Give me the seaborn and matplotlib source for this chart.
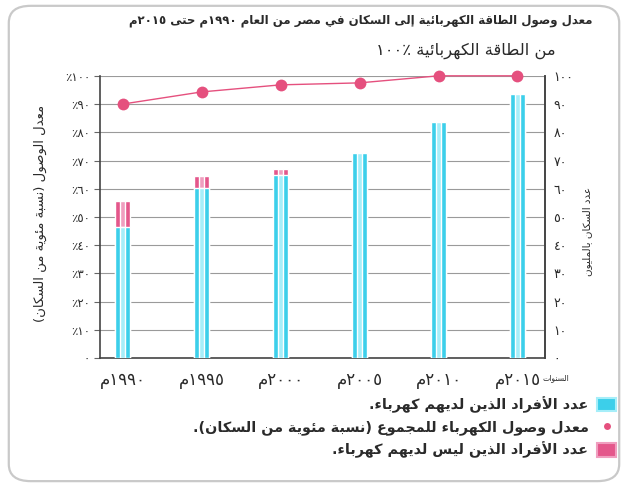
import re
import matplotlib
matplotlib.use("Agg")
import matplotlib.pyplot as plt
import seaborn as sns
from matplotlib.patches import FancyBboxPatch, Patch
from matplotlib.lines import Line2D

# ---------------- data ----------------
years = ["١٩٩٠م", "١٩٩٥م", "٢٠٠٠م", "٢٠٠٥م", "٢٠١٠م", "٢٠١٥م"]
pop_total = [55.7, 64.5, 66.9, 72.6, 83.8, 93.5]      # millions (total population)
pop_with = [46.5, 60.3, 64.9, 72.6, 83.8, 93.5]       # millions with electricity
access_pct = [90.0, 94.3, 96.8, 97.5, 100.0, 100.0]   # % access
tick_values = [0, 10, 20, 30, 40, 50, 60, 70, 80, 90, 100]
left_tick_labels = ["٠", "١٠٪", "٢٠٪", "٣٠٪", "٤٠٪", "٥٠٪", "٦٠٪", "٧٠٪", "٨٠٪", "٩٠٪", "١٠٠٪"]
right_tick_labels = ["٠", "١٠", "٢٠", "٣٠", "٤٠", "٥٠", "٦٠", "٧٠", "٨٠", "٩٠", "١٠٠"]
title_text = "معدل وصول الطاقة الكهربائية إلى السكان في مصر من العام ١٩٩٠م حتى ٢٠١٥م"
subtitle_num = "١٠٠٪"
subtitle_text = "من الطاقة الكهربائية"
left_label = "معدل الوصول (نسبة مئوية من السكان)"
right_label = "عدد السكان بالمليون"
x_label = "السنوات"
legend_labels = [
    "عدد الأفراد الذين لديهم كهرباء.",
    "معدل وصول الكهرباء للمجموع (نسبة مئوية من السكان).",
    "عدد الأفراد الذين ليس لديهم كهرباء.",
]

# ---------------- minimal Arabic shaping + visual ordering ----------------
_spec = [(0x0621, 1), (0x0622, 2), (0x0623, 2), (0x0624, 2), (0x0625, 2), (0x0626, 4),
         (0x0627, 2), (0x0628, 4), (0x0629, 2), (0x062A, 4), (0x062B, 4), (0x062C, 4),
         (0x062D, 4), (0x062E, 4), (0x062F, 2), (0x0630, 2), (0x0631, 2), (0x0632, 2),
         (0x0633, 4), (0x0634, 4), (0x0635, 4), (0x0636, 4), (0x0637, 4), (0x0638, 4),
         (0x0639, 4), (0x063A, 4), (0x0641, 4), (0x0642, 4), (0x0643, 4), (0x0644, 4),
         (0x0645, 4), (0x0646, 4), (0x0647, 4), (0x0648, 2), (0x0649, 2), (0x064A, 4)]
FORMS = {}
_cp = 0xFE80
for _c, _n in _spec:
    FORMS[chr(_c)] = [chr(_cp + i) for i in range(_n)]
    _cp += _n
LAM_ALEF = {"\u0622": 0xFEF5, "\u0623": 0xFEF7, "\u0625": 0xFEF9, "\u0627": 0xFEFB}


def _joins_next(c):
    return c is not None and c in FORMS and len(FORMS[c]) == 4


def shape(text):
    out = []
    n = len(text)
    i = 0
    while i < n:
        c = text[i]
        if c not in FORMS:
            out.append(c)
            i += 1
            continue
        prev = text[i - 1] if i > 0 else None
        jp = _joins_next(prev)
        if c == "\u0644" and i + 1 < n and text[i + 1] in LAM_ALEF:
            out.append(chr(LAM_ALEF[text[i + 1]] + (1 if jp else 0)))
            i += 2
            continue
        nxt = text[i + 1] if i + 1 < n else None
        jn = _joins_next(c) and nxt is not None and nxt in FORMS
        f = FORMS[c]
        if len(f) == 1:
            out.append(f[0])
        elif jp and jn:
            out.append(f[3])
        elif jp:
            out.append(f[1])
        elif jn:
            out.append(f[2])
        else:
            out.append(f[0])
        i += 1
    return "".join(out)


def rtl(text):
    s = shape(text)
    tokens = re.findall(r"[0-9\u0660-\u0669]+|.", s)
    mirror = {"(": ")", ")": "("}
    return "".join(mirror.get(t, t) for t in reversed(tokens))


# ---------------- style ----------------
sns.set_style("white")
plt.rcParams["font.family"] = ["DejaVu Sans"]

CYAN = "#3ccfea"
CYAN_LIGHT = "#a6eef9"
PINK = "#e4578b"
PINK_LIGHT = "#f09ebf"
DOT = "#e5507e"
GRID = "#9a9a9a"
TEXT = "#2a2a2a"

fig = plt.figure(figsize=(6.28, 4.86), dpi=100)
fig.patch.set_facecolor("white")
ax = fig.add_axes([0.159, 0.263, 0.709, 0.581])

xs = years
# stacked bars: total (pink) under "with electricity" (cyan)
sns.barplot(x=xs, y=pop_total, color=PINK, width=0.19, saturation=1, ax=ax, zorder=3)
sns.barplot(x=xs, y=pop_total, color=PINK_LIGHT, width=0.06, saturation=1, ax=ax, zorder=3)
sns.barplot(x=xs, y=pop_with, color=CYAN, width=0.19, saturation=1, ax=ax, zorder=3)
sns.barplot(x=xs, y=pop_with, color=CYAN_LIGHT, width=0.06, saturation=1, ax=ax, zorder=3)

sns.pointplot(x=xs, y=access_pct, color=DOT, markers="o", markersize=8.5,
              linewidth=1.0, ax=ax, zorder=5)
for ln in ax.lines:
    ln.set_clip_on(False)
    ln.set_markeredgewidth(0)

ax.set_xlim(-0.29, 5.35)
ax.set_ylim(0, 100)
ax.set_yticks(tick_values)
ax.set_yticklabels([rtl(t) for t in left_tick_labels], fontsize=8.5, color=TEXT)
ax.set_xticks(range(len(years)))
ax.set_xticklabels([rtl(t) for t in years], fontsize=12, color=TEXT)
ax.tick_params(axis="x", length=6, width=1, color="#444444", pad=3)
ax.tick_params(axis="y", length=4, width=0.8, color="#666666", pad=3)
ax.grid(axis="y", color=GRID, lw=0.8, zorder=0)
ax.grid(axis="x", visible=False)
ax.set_axisbelow(True)
ax.set_xlabel("")
ax.set_ylabel("")
for side in ["left", "bottom", "right"]:
    ax.spines[side].set_visible(True)
    ax.spines[side].set_color("#444444")
    ax.spines[side].set_linewidth(1.2)
ax.spines["top"].set_visible(False)

ax2 = ax.twinx()
ax2.set_ylim(0, 100)
ax2.set_yticks(tick_values)
ax2.set_yticklabels([rtl(t) for t in right_tick_labels], fontsize=9, color=TEXT)
ax2.tick_params(axis="y", length=0, pad=6)
for side in ["left", "bottom", "top"]:
    ax2.spines[side].set_visible(False)
ax2.spines["right"].set_color("#444444")
ax2.spines["right"].set_linewidth(1.2)
ax2.grid(False)

# texts
fig.text(0.943, 0.958, rtl(title_text), ha="right", va="center", fontsize=8.5,
         fontweight="bold", color=TEXT)
fig.text(0.884, 0.896, subtitle_num + " " + rtl(subtitle_text), ha="right", va="center",
         fontsize=11.8, color=TEXT)
fig.text(0.064, 0.56, rtl(left_label), rotation=90, ha="center", va="center",
         fontsize=9.5, color=TEXT)
fig.text(0.935, 0.523, rtl(right_label), rotation=90, ha="center", va="center",
         fontsize=7.5, color=TEXT)
fig.text(0.885, 0.222, rtl(x_label), ha="center", va="center", fontsize=5.5, color=TEXT)

# legend (right-to-left: markers on the right)
handles = [
    Patch(facecolor=CYAN, edgecolor=CYAN_LIGHT, linewidth=1.5),
    Line2D([], [], marker="o", color="none", markerfacecolor=DOT, markeredgewidth=0, markersize=5),
    Patch(facecolor=PINK, edgecolor=PINK_LIGHT, linewidth=1.5),
]
fig.legend(handles, [rtl(t) for t in legend_labels], markerfirst=False, loc="upper right",
           bbox_to_anchor=(0.99, 0.196), frameon=False, handlelength=1.3, handleheight=1.1,
           handletextpad=0.6, labelspacing=0.45, borderaxespad=0,
           prop={"size": 10.4, "weight": "bold"}, labelcolor=TEXT)

# rounded outer frame
fig.patches.append(FancyBboxPatch((0.014, 0.01), 0.972, 0.978,
                                  boxstyle="round,pad=0,rounding_size=0.035",
                                  transform=fig.transFigure, fill=False,
                                  edgecolor="#c9c9c9", linewidth=1.6))

fig.savefig("out.png", dpi=100, facecolor="white")
